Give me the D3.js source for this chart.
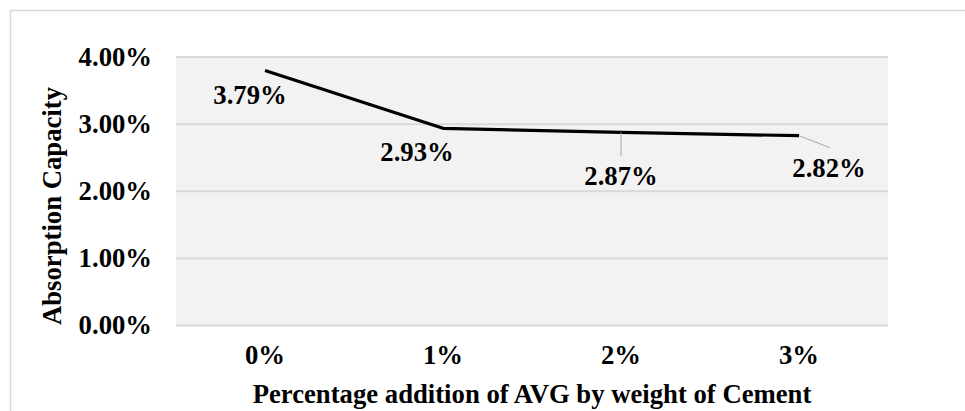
<!DOCTYPE html>
<html>
<head>
<meta charset="utf-8">
<script src="https://cdn.jsdelivr.net/npm/d3@7"></script>
<style>
  body { margin: 0; background: #fff; }
  svg text { font-family: "Liberation Serif", "Times New Roman", serif; font-weight: bold; fill: #000; }
</style>
</head>
<body>
<div id="chart"></div>
<script>
// data
const categories = ['0%', '1%', '2%', '3%'];
const absorption = [3.79, 2.93, 2.87, 2.82];
const yTicks = [0, 1, 2, 3, 4];

// label placement (px, relative to the point) and which ones get a leader line
const labelOffsets = [[-15, 33], [-26, 33], [0, 53], [30, 41]];
const leaders = [null, null, [[0, 0], [0, 24]], [[0, 0], [31, 12]]];

const fontSize = 26.7;
const width = 965, height = 411;
const margin = {top: 56.5, right: 77, bottom: 86, left: 176};
const w = width - margin.left - margin.right;
const h = height - margin.top - margin.bottom;

const svg = d3.select('#chart')
  .append('svg')
  .attr('width', width)
  .attr('height', height);

// chart border
svg.append('rect')
  .attr('x', 10.5).attr('y', 10.5)
  .attr('width', 970).attr('height', 420)
  .attr('fill', 'none')
  .attr('stroke', '#d9d9d9')
  .attr('stroke-width', 1.5);

const chart = svg.append('g')
  .attr('transform', `translate(${margin.left}, ${margin.top})`);

const xScale = d3.scaleBand()
  .range([0, w])
  .domain(categories);

const yScale = d3.scaleLinear()
  .range([h, 0])
  .domain([0, 4]);

chart.append('rect')
  .attr('width', w).attr('height', h)
  .attr('fill', '#f2f2f2');

// gridlines
chart.append('g')
  .call(d3.axisLeft(yScale).tickValues(yTicks).tickSize(-w).tickFormat(''))
  .call(g => g.select('.domain').remove())
  .call(g => g.selectAll('line').attr('stroke', '#d9d9d9').attr('stroke-width', 2));

// y tick labels
chart.append('g')
  .call(d3.axisLeft(yScale).tickValues(yTicks).tickSize(0).tickPadding(24)
    .tickFormat(d => d.toFixed(2) + '%'))
  .call(g => g.select('.domain').remove())
  .call(g => g.selectAll('text')
    .attr('font-size', fontSize).attr('font-family', null).attr('dy', '0.33em'));

// x tick labels
chart.append('g')
  .attr('transform', `translate(0, ${h})`)
  .call(d3.axisBottom(xScale).tickSize(0).tickPadding(20))
  .call(g => g.select('.domain').remove())
  .call(g => g.selectAll('text')
    .attr('font-size', fontSize).attr('font-family', null).attr('dy', '0.7em'));

const points = absorption.map((v, i) => ({
  cat: categories[i],
  value: v,
  offset: labelOffsets[i],
  leader: leaders[i]
}));

const px = (p) => xScale(p.cat) + xScale.bandwidth() / 2;

const line = d3.line()
  .x(px)
  .y(p => yScale(p.value));

chart.append('path')
  .datum(points)
  .attr('d', line)
  .attr('fill', 'none')
  .attr('stroke', '#000')
  .attr('stroke-width', 3.2)
  .attr('stroke-linejoin', 'round');

// leader lines
chart.selectAll('.leader')
  .data(points.filter(p => p.leader))
  .enter()
  .append('line')
  .attr('class', 'leader')
  .attr('x1', p => px(p) + p.leader[0][0])
  .attr('y1', p => yScale(p.value) + p.leader[0][1])
  .attr('x2', p => px(p) + p.leader[1][0])
  .attr('y2', p => yScale(p.value) + p.leader[1][1])
  .attr('stroke', '#a6a6a6')
  .attr('stroke-width', 1);

// data labels
chart.selectAll('.value')
  .data(points)
  .enter()
  .append('text')
  .attr('class', 'value')
  .attr('x', p => px(p) + p.offset[0])
  .attr('y', p => yScale(p.value) + p.offset[1])
  .attr('text-anchor', 'middle')
  .attr('font-size', fontSize)
  .text(p => p.value.toFixed(2) + '%');

// axis titles
svg.append('text')
  .attr('x', margin.left + w / 2)
  .attr('y', 403)
  .attr('text-anchor', 'middle')
  .attr('font-size', fontSize)
  .text('Percentage addition of AVG by weight of Cement');

svg.append('text')
  .attr('transform', 'translate(61, 206) rotate(-90)')
  .attr('text-anchor', 'middle')
  .attr('font-size', fontSize)
  .text('Absorption Capacity');
</script>
</body>
</html>
